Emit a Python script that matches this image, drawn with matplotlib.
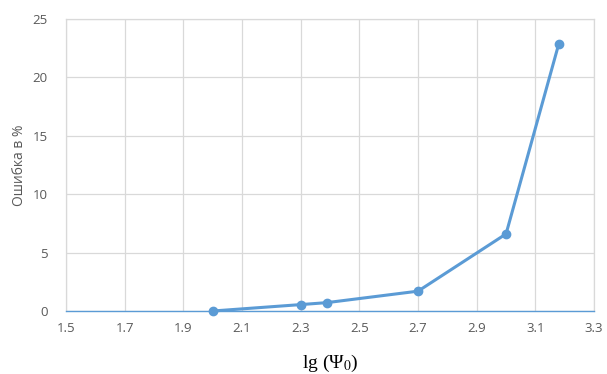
import matplotlib.pyplot as plt

# Данные
lg_psi = [2.0, 2.3, 2.39, 2.7, 3.0, 3.18]
error_pct = [0.0, 0.55, 0.72, 1.7, 6.6, 22.9]

x_ticks = [1.5, 1.7, 1.9, 2.1, 2.3, 2.5, 2.7, 2.9, 3.1, 3.3]
y_ticks = [0, 5, 10, 15, 20, 25]

blue = '#5B9BD5'
grid_c = '#D9D9D9'
text_c = '#595959'

plt.rcParams['font.family'] = ['Open Sans', 'DejaVu Sans']
plt.rcParams['mathtext.fontset'] = 'stix'

fig = plt.figure(figsize=(6.07, 3.74), dpi=100)
ax = fig.add_axes([0.1087, 0.1684, 0.87, 0.7808])

ax.plot(lg_psi, error_pct, color=blue, lw=2.2, marker='o', ms=6,
        clip_on=False, zorder=3)

ax.set_xlim(1.5, 3.3)
ax.set_ylim(0, 25)
ax.set_xticks(x_ticks)
ax.set_xticklabels([f"{v:.1f}" for v in x_ticks])
ax.set_yticks(y_ticks)

ax.grid(True, color=grid_c, lw=0.9)
ax.set_axisbelow(True)
for s in ['top', 'right', 'left']:
    ax.spines[s].set_color(grid_c)
    ax.spines[s].set_linewidth(0.9)
ax.spines['bottom'].set_color(blue)
ax.spines['bottom'].set_linewidth(1.0)

ax.tick_params(length=0, colors=text_c, labelsize=9.5)
ax.tick_params(axis='y', pad=13)
ax.tick_params(axis='x', pad=8)

ax.set_ylabel("Ошибка в %", color=text_c, fontsize=10, labelpad=4)
ax.set_xlabel(r"lg (Ψ$_0$)", fontsize=14, family='Liberation Serif', labelpad=13)

plt.savefig("out.png", dpi=100)
